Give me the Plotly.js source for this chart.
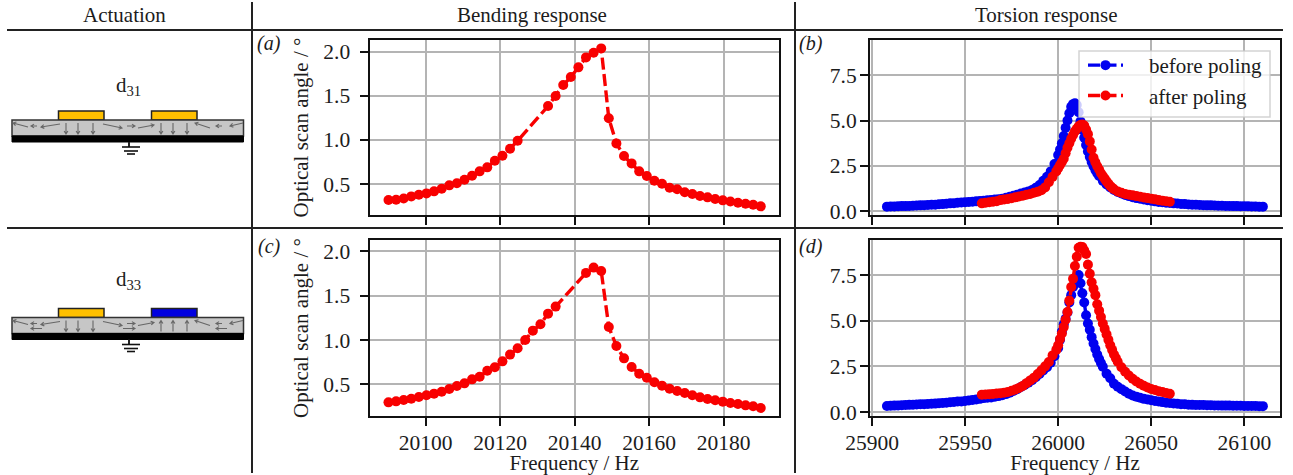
<!DOCTYPE html>
<html><head><meta charset="utf-8">
<script src="https://cdn.plot.ly/plotly-3.0.1.min.js"></script>
<style>html,body{margin:0;padding:0;background:#fff}#c{width:1293px;height:475px}</style>
</head><body><div id="c"></div>
<script>
const headers = ['Actuation','Bending response','Torsion response'];
const panelTags = ['(a)','(b)','(c)','(d)'];
const xTitle = 'Frequency / Hz';
const yTitle = 'Optical scan angle / °';
const legendNames = ['before poling','after poling'];

const bendA_f = [20090,20092.04,20094.08,20096.12,20098.16,20100.2,20102.24,20104.29,20106.33,20108.37,20110.41,20112.45,20114.49,20116.53,20118.57,20120.61,20122.65,20124.69,20132.86,20134.9,20136.94,20138.98,20141.02,20143.06,20145.1,20147.14,20149.18,20151.22,20153.27,20155.31,20157.35,20159.39,20161.43,20163.47,20165.51,20167.55,20169.59,20171.63,20173.67,20175.71,20177.76,20179.8,20181.84,20183.88,20185.92,20187.96,20190];
const bendA_v = [.319,.322,.337,.36,.379,.394,.417,.447,.485,.508,.549,.594,.644,.689,.765,.821,.90,.991,1.384,1.498,1.622,1.713,1.823,1.936,1.989,2.038,1.245,.961,.817,.734,.644,.591,.538,.504,.458,.44,.406,.387,.364,.349,.33,.315,.303,.288,.277,.266,.247];
const bendC_f = [20090,20092.04,20094.08,20096.12,20098.16,20100.2,20102.24,20104.29,20106.33,20108.37,20110.41,20112.45,20114.49,20116.53,20118.57,20120.61,20122.65,20124.69,20126.73,20128.78,20130.82,20132.86,20134.9,20143.06,20145.1,20147.14,20149.18,20151.22,20153.27,20155.31,20157.35,20159.39,20161.43,20163.47,20165.51,20167.55,20169.59,20171.63,20173.67,20175.71,20177.76,20179.8,20181.84,20183.88,20185.92,20187.96,20190];
const bendC_v = [.297,.308,.323,.338,.357,.376,.395,.417,.447,.481,.511,.556,.586,.654,.692,.759,.835,.906,1.0,1.105,1.177,1.297,1.376,1.756,1.816,1.778,1.147,.932,.793,.695,.62,.575,.523,.485,.451,.425,.402,.376,.353,.335,.32,.305,.289,.278,.263,.252,.233];

const torsBlueB_f = [25908,25910,25912,25914,25916,25918,25920,25922,25924,25926,25928,25930,25932,25934,25936,25938,25940,25942,25944,25946,25948,25950,25952,25954,25956,25958,25960,25962,25964,25966,25968,25970,25972,25974,25976,25978,25980,25982,25984,25986,25988,25990,25992,25994,25996,25998,26000,26001,26002,26003,26004,26005,26006,26007,26008,26009,26010,26011,26012,26013,26014,26015,26016,26017,26018,26019,26020,26021,26022,26024,26026,26028,26030,26032,26034,26036,26038,26040,26042,26044,26046,26048,26050,26052,26054,26056,26058,26060,26062,26064,26066,26068,26070,26072,26074,26076,26078,26080,26082,26084,26086,26088,26090,26092,26094,26096,26098,26100,26102,26104,26106,26108,26110];
const torsBlueB_v = [.26,.27,.27,.28,.29,.29,.30,.31,.32,.33,.34,.35,.36,.37,.39,.40,.42,.44,.45,.47,.49,.50,.52,.53,.55,.57,.59,.61,.63,.65,.67,.70,.75,.80,.86,.92,.98,1.04,1.10,1.18,1.30,1.45,1.68,1.90,2.20,2.60,3.10,3.40,3.75,4.15,4.60,5.00,5.40,5.75,5.90,5.95,5.85,5.45,4.95,4.50,4.05,3.65,3.30,3.00,2.72,2.48,2.27,2.10,1.95,1.68,1.48,1.32,1.18,1.07,.98,.90,.84,.78,.73,.69,.65,.61,.58,.55,.52,.50,.48,.46,.44,.43,.41,.40,.38,.37,.36,.35,.34,.33,.33,.32,.31,.31,.30,.30,.29,.29,.28,.28,.28,.27,.27,.26,.26];
const torsRedB_f = [25959,25961,25963,25965,25967,25969,25971,25973,25975,25977,25979,25981,25983,25985,25987,25989,25991,25993,25995,25997,25999,26000,26001,26002,26003,26004,26005,26006,26007,26008,26009,26010,26011,26012,26013,26014,26015,26016,26017,26018,26019,26020,26021,26022,26023,26024,26025,26026,26027,26028,26029,26030,26032,26034,26036,26038,26040,26042,26044,26046,26048,26050,26052,26054,26056,26058,26060];
const torsRedB_v = [.44,.47,.50,.53,.56,.62,.65,.68,.72,.77,.82,.86,.92,.96,1.02,1.08,1.16,1.32,1.60,1.90,2.20,2.37,2.55,2.72,2.90,3.20,3.50,3.75,4.00,4.20,4.40,4.55,4.68,4.75,4.78,4.72,4.50,4.25,3.85,3.40,2.95,2.70,2.48,2.30,2.10,1.95,1.80,1.65,1.52,1.40,1.30,1.22,1.10,1.02,.96,.92,.88,.84,.80,.76,.73,.70,.66,.62,.59,.56,.53];
const torsBlueD_f = [25908,25910,25912,25914,25916,25918,25920,25922,25924,25926,25928,25930,25932,25934,25936,25938,25940,25942,25944,25946,25948,25950,25952,25954,25956,25958,25960,25962,25964,25966,25968,25970,25972,25974,25976,25978,25980,25982,25984,25986,25988,25990,25992,25994,25996,25998,26000,26001,26002,26003,26004,26005,26006,26007,26008,26009,26010,26011,26012,26013,26014,26015,26016,26017,26018,26019,26020,26021,26022,26023,26024,26026,26028,26030,26032,26034,26036,26038,26040,26042,26044,26046,26048,26050,26052,26054,26056,26058,26060,26062,26064,26066,26068,26070,26072,26074,26076,26078,26080,26082,26084,26086,26088,26090,26092,26094,26096,26098,26100,26102,26104,26106,26108,26110];
const torsBlueD_v = [.33,.34,.35,.36,.37,.38,.39,.40,.41,.42,.43,.44,.45,.46,.48,.49,.51,.53,.55,.57,.58,.60,.63,.66,.69,.72,.76,.78,.80,.84,.87,.92,.98,1.06,1.15,1.25,1.37,1.48,1.60,1.74,1.90,2.08,2.28,2.45,2.70,3.05,3.50,3.95,4.40,4.80,5.10,5.45,6.00,6.40,6.85,7.05,7.20,7.50,7.05,6.50,6.00,5.30,4.85,4.50,4.10,3.75,3.45,3.15,2.90,2.68,2.48,2.10,1.85,1.55,1.38,1.25,1.12,1.00,.90,.84,.78,.72,.68,.64,.60,.57,.54,.51,.49,.47,.45,.43,.42,.40,.39,.38,.38,.38,.37,.37,.36,.36,.35,.35,.35,.34,.34,.34,.33,.33,.33,.33,.32,.32];
const torsRedD_f = [25959,25961,25963,25965,25967,25969,25971,25973,25975,25977,25979,25981,25983,25985,25987,25989,25991,25993,25995,25997,25999,26000,26001,26002,26003,26004,26005,26006,26007,26008,26009,26010,26011,26012,26013,26014,26015,26016,26017,26018,26019,26020,26021,26022,26023,26024,26025,26026,26027,26028,26029,26030,26031,26032,26034,26036,26038,26040,26042,26044,26046,26048,26050,26052,26054,26056,26058,26060];
const torsRedD_v = [.95,.96,.97,.99,1.01,1.03,1.06,1.10,1.16,1.23,1.32,1.43,1.58,1.73,1.88,2.08,2.28,2.50,2.74,3.10,3.40,3.65,4.00,4.30,4.65,5.05,5.47,6.10,6.85,7.30,8.00,8.50,9.00,9.05,9.03,8.85,8.65,8.07,7.57,7.10,6.75,6.40,5.90,5.55,5.20,4.85,4.55,4.25,3.95,3.65,3.40,3.15,2.95,2.75,2.45,2.20,2.00,1.82,1.67,1.55,1.44,1.34,1.26,1.20,1.14,1.09,1.04,1.00];

const FONT = '"Liberation Serif","Times New Roman",serif';
const INK = '#1c1c1c';
const RED = '#f80000', BLUE = '#0000f0';
const W = 1293, H = 475;
const px = x => x / W;
const py = y => 1 - y / H;
const PAD = '\u00a0\u00a0\u00a0\u00a0';

function lineTrace(f, v, color, xa, ya, name, show) {
  return {x: f, y: v, xaxis: xa, yaxis: ya, type: 'scatter', mode: 'lines+markers', name: name, showlegend: !!show,
    line: {color: color, width: 3.4, dash: '12px,4.5px'}, marker: {color: color, size: 10}, hoverinfo: 'x+y'};
}
const data = [
  lineTrace(bendA_f, bendA_v, RED, 'x', 'y', 'bending a', false),
  lineTrace(torsBlueB_f, torsBlueB_v, BLUE, 'x2', 'y2', PAD + legendNames[0], true),
  lineTrace(torsRedB_f, torsRedB_v, RED, 'x2', 'y2', PAD + legendNames[1], true),
  lineTrace(bendC_f, bendC_v, RED, 'x3', 'y3', 'bending c', false),
  lineTrace(torsBlueD_f, torsBlueD_v, BLUE, 'x4', 'y4', legendNames[0], false),
  lineTrace(torsRedD_f, torsRedD_v, RED, 'x4', 'y4', legendNames[1], false)
];

function xAxis(l, r, range, anchor, tick, labels) {
  return {domain: [px(l), px(r)], range: range, anchor: anchor, dtick: tick, tickformat: 'd', showticklabels: labels,
    showgrid: true, gridcolor: '#b4b4b4', gridwidth: 2, zeroline: false, showline: true, linecolor: '#111', linewidth: 2, mirror: true,
    ticks: 'outside', ticklen: 8, tickwidth: 2, tickcolor: '#111', ticklabelstandoff: -2,
    tickfont: {family: FONT, size: 21.5, color: INK},
    title: labels ? {text: xTitle, font: {family: FONT, size: 21, color: INK}, standoff: -6} : undefined};
}
function yAxis(t, b, range, anchor, tick, fmt, titled, gap) {
  return {domain: [py(b), py(t)], range: range, anchor: anchor, dtick: tick, tickformat: fmt,
    showgrid: true, gridcolor: '#b4b4b4', gridwidth: 2, zeroline: false, showline: true, linecolor: '#111', linewidth: 2, mirror: true,
    ticks: 'outside', ticklen: 8, tickwidth: 2, tickcolor: '#111', ticklabelstandoff: gap,
    tickfont: {family: FONT, size: 21.5, color: INK},
    title: titled ? {text: yTitle, font: {family: FONT, size: 21, color: INK}, standoff: 9} : undefined};
}

const shapes = [];
function rule(x0, y0, x1, y1) {
  shapes.push({type: 'line', xref: 'paper', yref: 'paper', x0: px(x0), y0: py(y0), x1: px(x1), y1: py(y1), line: {color: '#222', width: 2}});
}
rule(7, 30, 1283, 30); rule(7, 228, 1283, 228); rule(252, 2, 252, 473); rule(795, 2, 795, 473);

function box(x0, y0, x1, y1, fill, edge, w) {
  shapes.push({type: 'rect', xref: 'paper', yref: 'paper', x0: px(x0), y0: py(y0), x1: px(x1), y1: py(y1), fillcolor: fill, line: {color: edge, width: w}});
}
box(1079, 51, 1270, 117, 'rgba(255,255,255,0.8)', 'rgba(200,200,200,0.8)', 1.5);

function arrow(x0, y0, x1, y1) {
  const a = Math.atan2(y1 - y0, x1 - x0), s = 3.6, w = 0.55;
  const p = (X, Y) => px(X) + ',' + py(Y);
  const path = 'M' + p(x0, y0) + ' L' + p(x1, y1) + ' M' + p(x1 - s * Math.cos(a - w), y1 - s * Math.sin(a - w)) +
    ' L' + p(x1, y1) + ' L' + p(x1 - s * Math.cos(a + w), y1 - s * Math.sin(a + w));
  shapes.push({type: 'path', xref: 'paper', yref: 'paper', path: path, line: {color: '#666', width: 1.1}});
}
function schematic(top, rightColor, up) {
  box(58.5, top, 104, top + 9, '#ffc000', '#222', 1.5);
  box(151.5, top, 197, top + 9, rightColor, '#222', 1.5);
  box(12, top + 9, 243.5, top + 25, '#c6c6c6', '#333', 1.5);
  box(12, top + 25, 243.5, top + 31, '#000', '#000', 1);
  rule(129, top + 31, 129, top + 36);
  [[122, 140, 36], [124, 138, 40], [127, 135, 43]].forEach(g => {
    shapes.push({type: 'line', xref: 'paper', yref: 'paper', x0: px(g[0]), x1: px(g[1]), y0: py(top + g[2]), y1: py(top + g[2]), line: {color: '#111', width: 1.6}});
  });
  [66, 78, 93].forEach(x => arrow(x, top + 12, x, top + 23));
  [161, 173, 187].forEach(x => up ? arrow(x, top + 23, x, top + 12) : arrow(x, top + 12, x, top + 23));
  arrow(28, top + 16, 13, top + 12); arrow(37, top + 15, 31, top + 15); arrow(60, top + 13, 41, top + 16);
  arrow(103, top + 13, 122, top + 17); arrow(127, top + 15, 135, top + 15); arrow(138, top + 17, 154, top + 14);
  arrow(210, top + 17, 195, top + 12); arrow(222, top + 15, 216, top + 15); arrow(243, top + 12, 230, top + 15);
  if (up) { arrow(42, top + 20, 31, top + 20); arrow(123, top + 20, 135, top + 20); arrow(227, top + 20, 216, top + 20); }
}
schematic(111, '#ffc000', false);
schematic(308.5, '#0000e0', true);

function note(text, x, y, size, italic) {
  return {text: text, xref: 'paper', yref: 'paper', x: px(x), y: py(y), showarrow: false, xanchor: 'center', yanchor: 'middle',
    font: {family: FONT, size: size, color: INK, style: italic ? 'italic' : 'normal'}};
}
const annotations = [
  note(headers[0], 124, 15, 21), note(headers[1], 532, 15, 21), note(headers[2], 1046, 15, 21),
  note(panelTags[0], 269, 44, 20, true), note(panelTags[1], 811, 44, 20, true),
  note(panelTags[2], 269, 246, 20, true), note(panelTags[3], 811, 246, 20, true),
  note('d<sub>31</sub>', 128, 86, 21), note('d<sub>33</sub>', 128, 280, 21)
];

const layout = {
  width: W, height: H, margin: {l: 0, r: 0, t: 0, b: 0, pad: 0}, autosize: false,
  paper_bgcolor: '#fff', plot_bgcolor: '#fff',
  font: {family: FONT, color: INK},
  xaxis: xAxis(369.5, 779, [20084.9, 20194.9], 'y', 20, false),
  yaxis: yAxis(40, 215, [0.149, 2.133], 'x', 0.5, '.1f', true, 5),
  xaxis2: xAxis(870, 1280, [25898.9, 26119.2], 'y2', 50, false),
  yaxis2: yAxis(40, 215, [-0.2, 9.43], 'x2', 2.5, '.1f', false, -1),
  xaxis3: xAxis(369.5, 779, [20084.9, 20194.9], 'y3', 20, true),
  yaxis3: yAxis(240, 416, [0.143, 2.127], 'x3', 0.5, '.1f', true, 5),
  xaxis4: xAxis(870, 1280, [25898.9, 26119.2], 'y4', 50, true),
  yaxis4: yAxis(240, 416, [-0.22, 9.42], 'x4', 2.5, '.1f', false, -1),
  shapes: shapes, annotations: annotations,
  legend: {x: px(1079), y: py(45), xanchor: 'left', yanchor: 'top', bgcolor: 'rgba(0,0,0,0)', borderwidth: 0, indentation: 4,
    font: {family: FONT, size: 21, color: INK}, itemwidth: 35, tracegroupgap: 0}
};
Plotly.newPlot('c', data, layout, {displayModeBar: false, staticPlot: true});
</script></body></html>
